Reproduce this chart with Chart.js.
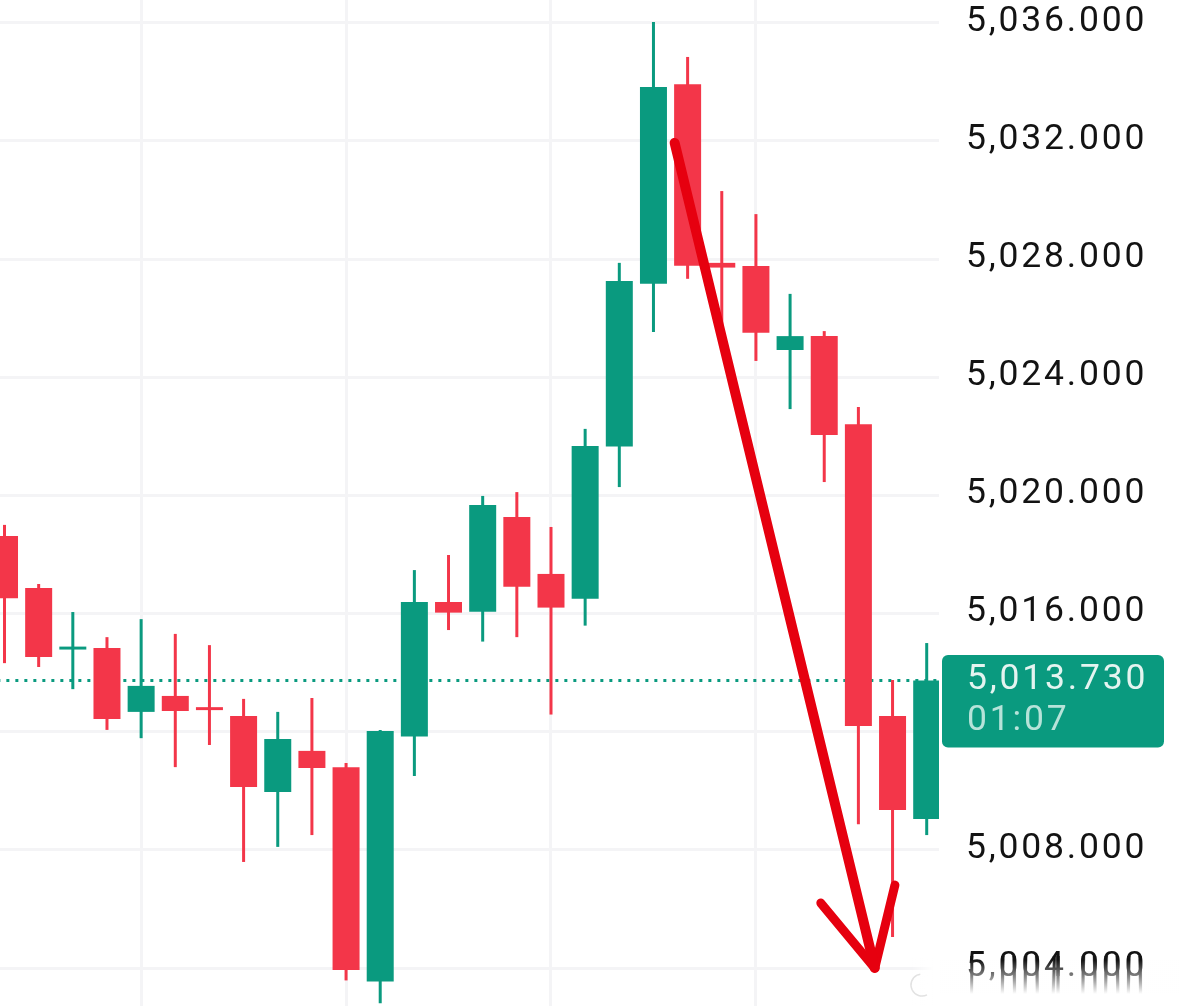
<!DOCTYPE html>
<html>
<head>
<meta charset="utf-8">
<style>
  html, body { margin: 0; padding: 0; background: #fff; }
  #wrap { width: 1179px; height: 1006px; position: relative; overflow: hidden; }
</style>
<script src="https://cdn.jsdelivr.net/npm/chart.js@4"></script>
</head>
<body>
<div id="wrap"><canvas id="chart" width="1179" height="1006"></canvas></div>
<script>
// values
var opens  = [5018.62, 5016.86, 5014.78, 5014.83, 5012.67, 5013.21, 5012.83, 5012.53, 5009.96, 5011.35, 5010.80, 5003.54, 5011.84, 5016.39, 5016.06, 5019.27, 5017.34, 5016.50, 5021.65, 5027.16, 5033.92, 5027.87, 5027.76, 5024.92, 5025.39, 5022.41, 5012.53, 5009.04];
var closes = [5016.52, 5014.53, 5014.88, 5012.43, 5013.55, 5012.70, 5012.73, 5010.13, 5011.75, 5010.77, 5003.93, 5012.02, 5016.39, 5016.03, 5019.67, 5016.91, 5016.20, 5021.67, 5027.26, 5033.82, 5027.77, 5027.71, 5025.50, 5025.39, 5022.04, 5012.19, 5009.35, 5013.73];
var highs  = [5019.00, 5017.00, 5016.05, 5015.20, 5015.81, 5015.31, 5014.93, 5013.11, 5012.67, 5013.14, 5010.94, 5012.06, 5017.47, 5017.98, 5019.98, 5020.11, 5018.93, 5022.25, 5027.87, 5036.02, 5034.84, 5030.30, 5029.52, 5026.82, 5025.56, 5022.99, 5013.75, 5015.00];
var lows   = [5014.32, 5014.19, 5013.44, 5012.06, 5011.78, 5010.80, 5011.55, 5007.59, 5008.10, 5008.50, 5003.58, 5002.81, 5010.50, 5015.44, 5015.05, 5015.20, 5012.58, 5015.59, 5020.28, 5025.53, 5027.33, 5025.60, 5024.55, 5022.92, 5020.45, 5008.87, 5005.05, 5008.50];

var priceTicks = [5004, 5008, 5012, 5016, 5020, 5024, 5028, 5032, 5036];
var timeTicks = [4, 10, 16, 22];
var lastPrice = 5013.73;
var lastPriceText = '5,013.730';
var countdownText = '01:07';

// hand-drawn arrow on the picture, in candle index / price
var arrowShaftX = [19.62, 25.48];
var arrowShaftY = [5031.93, 5004.00];
var arrowHeadX = [23.90, 25.48, 26.07];
var arrowHeadY = [5006.20, 5004.00, 5006.81];

var green = '#0a9a7f';
var red = '#f33649';
var gridColor = '#f4f4f6';
var labelFont = '35.5px Roboto';

function candleColor(ctx) {
    var i = ctx.dataIndex;
    return closes[i] >= opens[i] ? green : red;
}

var wicks = highs.map(function (h, i) { return { x: i, y: [lows[i], h] }; });
var bodies = opens.map(function (o, i) { return { x: i, y: [o, closes[i]] }; });

function toPoints(xs, ys) {
    return xs.map(function (x, i) { return { x: x, y: ys[i] }; });
}

// last price tag on the axis and the blurred watermark strip
var overlay = {
    id: 'overlay',
    beforeDraw: function (chart) {
        chart.ctx.letterSpacing = '2.8px';
    },
    afterDraw: function (chart) {
        var c = chart.ctx;
        var y = chart.scales.y.getPixelForValue(lastPrice);
        c.save();
        c.fillStyle = green;
        c.beginPath();
        c.roundRect(942, y - 25.5, 222, 92.5, 6);
        c.fill();
        c.font = labelFont;
        c.textBaseline = 'middle';
        c.fillStyle = '#e4f4f0';
        c.fillText(lastPriceText, 967, y);
        c.fillStyle = '#b6e3d9';
        c.fillText(countdownText, 967, y + 41);

        // smear the bottom label downwards like the watermark blur does
        c.drawImage(chart.canvas, 940, 956, 239, 2, 940, 956, 239, 38);
        var g = c.createLinearGradient(0, 960, 0, 994);
        g.addColorStop(0, 'rgba(255,255,255,0)');
        g.addColorStop(1, 'rgba(255,255,255,1)');
        c.fillStyle = g;
        c.fillRect(940, 960, 239, 34);
        c.fillStyle = '#fff';
        c.fillRect(940, 994, 239, 12);
        var fade = c.createLinearGradient(912, 0, 934, 0);
        fade.addColorStop(0, 'rgba(255,255,255,0)');
        fade.addColorStop(1, 'rgba(255,255,255,1)');
        c.fillStyle = fade;
        c.fillRect(912, 958, 28, 48);
        c.strokeStyle = '#e2e2e2';
        c.lineWidth = 1.5;
        c.beginPath();
        c.arc(922, 985, 11, Math.PI * 0.35, Math.PI * 1.45);
        c.stroke();
        c.restore();
    }
};

new Chart(document.getElementById('chart'), {
    type: 'bar',
    data: {
        datasets: [
            { label: 'Wick', data: wicks, backgroundColor: candleColor, barThickness: 3, grouped: false, order: 2, inflateAmount: 0 },
            { label: 'Body', data: bodies, backgroundColor: candleColor, barThickness: 27, grouped: false, order: 1, inflateAmount: 0 },
            {
                type: 'line', label: 'Last', data: toPoints([-1, 28], [lastPrice, lastPrice]), borderColor: green,
                borderWidth: 3, borderDash: [3, 6], pointRadius: 0, order: 3
            },
            {
                type: 'line', label: 'Arrow shaft', data: toPoints(arrowShaftX, arrowShaftY), borderColor: '#e6000f',
                borderWidth: 10, borderCapStyle: 'round', pointRadius: 0, clip: false, order: 0
            },
            {
                type: 'line', label: 'Arrow head', data: toPoints(arrowHeadX, arrowHeadY), borderColor: '#e6000f',
                borderWidth: 9, borderCapStyle: 'round', borderJoinStyle: 'round', pointRadius: 0, clip: false, order: 0
            }
        ]
    },
    options: {
        responsive: false,
        animation: false,
        devicePixelRatio: 1,
        layout: { padding: 0 },
        plugins: { legend: { display: false }, tooltip: { enabled: false } },
        scales: {
            x: {
                type: 'linear',
                offset: false,
                min: -0.132,
                max: 27.36,
                border: { display: false },
                grid: { color: gridColor, lineWidth: 3, drawTicks: false, offset: false },
                ticks: { display: false },
                afterBuildTicks: function (axis) {
                    axis.ticks = timeTicks.map(function (v) { return { value: v }; });
                },
                afterFit: function (axis) {
                    axis.height = 0;
                    axis.paddingLeft = 0;
                    axis.paddingRight = 0;
                }
            },
            y: {
                position: 'right',
                min: 5002.714,
                max: 5036.768,
                border: { display: false },
                grid: { color: gridColor, lineWidth: 3, drawTicks: false },
                ticks: {
                    color: '#131313',
                    font: { family: 'Roboto', size: 35.5 },
                    padding: 27,
                    labelOffset: -1,
                    callback: function (v) { return v.toLocaleString('en-US') + '.000'; }
                },
                afterBuildTicks: function (axis) {
                    axis.ticks = priceTicks.map(function (v) { return { value: v }; });
                },
                afterFit: function (axis) {
                    axis.width = 240;
                    axis.paddingTop = 0;
                    axis.paddingBottom = 0;
                }
            }
        }
    },
    plugins: [overlay]
});
</script>
</body>
</html>
